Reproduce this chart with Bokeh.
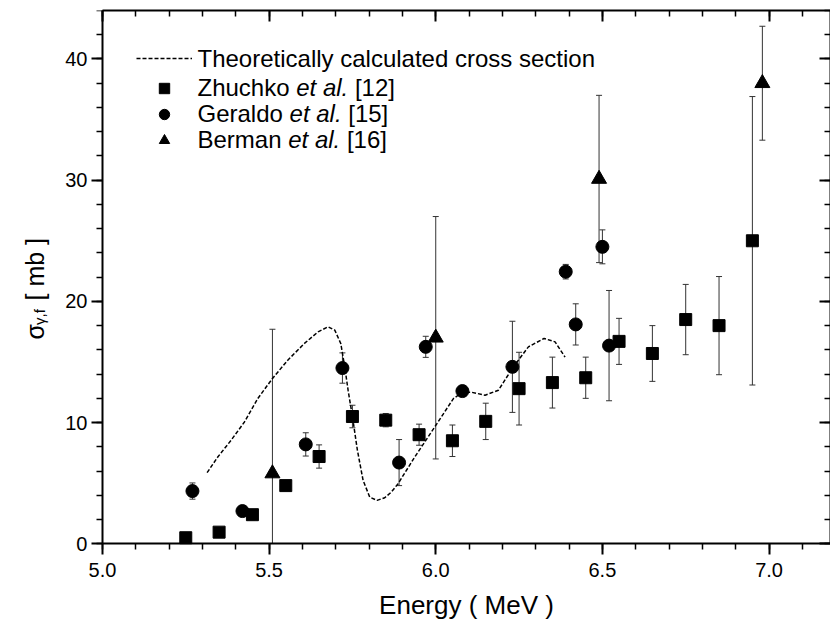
import numpy as np
from bokeh.plotting import figure
from bokeh.models import (Range1d, LinearAxis, SingleIntervalTicker, PrintfTickFormatter,
                          Label, Legend, LegendItem)
from bokeh.embed import file_html
from bokeh.resources import INLINE

# ---------------- data ----------------
# Theoretically calculated cross section (dashed curve)
th_e = [5.314, 5.346, 5.386, 5.426, 5.466, 5.509, 5.556, 5.606, 5.647, 5.677, 5.697,
        5.715, 5.727, 5.737, 5.750, 5.765, 5.782, 5.802, 5.824, 5.847, 5.867, 5.887,
        5.937, 5.997, 6.053, 6.080, 6.108, 6.148, 6.188, 6.233, 6.278, 6.325, 6.358, 6.388]
th_s = [5.87, 7.16, 8.54, 10.05, 11.98, 13.6, 15.15, 16.53, 17.49, 17.9, 17.63,
        16.53, 14.6, 12.67, 10.5, 7.71, 5.23, 3.85, 3.58, 3.8, 4.27, 4.96,
        7.16, 9.64, 11.98, 12.5, 12.5, 12.26, 12.67, 14.6, 16.25, 16.94, 16.66, 15.4]

# Zhuchko et al. [12]
zh_e = [5.25, 5.35, 5.45, 5.55, 5.65, 5.75, 5.85, 5.95, 6.05, 6.15, 6.25, 6.35,
        6.45, 6.55, 6.65, 6.75, 6.85, 6.95]
zh_s = [0.5, 0.96, 2.4, 4.8, 7.2, 10.5, 10.2, 9.0, 8.5, 10.1, 12.8, 13.3,
        13.7, 16.7, 15.7, 18.5, 18.0, 25.0]
zh_d = [0, 0, 0, 0, 0.96, 0.93, 0.55, 0.87, 1.3, 1.5, 3.0, 2.1,
        1.7, 1.9, 2.3, 2.9, 4.05, 11.9]

# Geraldo et al. [15]
ge_e = [5.27, 5.42, 5.61, 5.72, 5.89, 5.97, 6.08, 6.23, 6.39, 6.42, 6.50, 6.52]
ge_s = [4.35, 2.7, 8.2, 14.5, 6.7, 16.25, 12.6, 14.6, 22.45, 18.1, 24.5, 16.35]
ge_d = [0.67, 0, 0.96, 1.25, 1.9, 0.87, 0, 3.76, 0.6, 1.7, 1.4, 4.55]

# Berman et al. [16]
be_e = [5.51, 6.00, 6.49, 6.98]
be_s = [5.8, 17.0, 30.1, 38.0]
be_d = [11.9, 10.0, 6.9, 4.7]

X_START, X_END = 5.0, 7.1844
Y_START, Y_END = 0, 44
x_ticks_interval = 0.5
y_ticks_interval = 10

FONT = "Liberation Sans"

# The frame spans the whole page (minus the top axis and the right axis) so that the
# axis titles and tick labels, which are drawn inside it, are not clipped.  The left
# and bottom axes are pinned at x = 5.0 and y = 0 and bounded to the data area.
X_VIEW_START = 4.6941
Y_VIEW_START = -6.66

p = figure(width=830, height=624, x_range=Range1d(X_VIEW_START, X_END),
           y_range=Range1d(Y_VIEW_START, Y_END),
           output_backend="svg", toolbar_location=None,
           min_border_left=0, min_border_right=0, min_border_top=10, min_border_bottom=0)
p.grid.visible = False
p.outline_line_color = None
p.background_fill_color = "white"


def style_axis(ax, inside, labels=True):
    ax.axis_line_width = 2
    ax.axis_line_color = "black"
    ax.major_tick_line_width = 2
    ax.minor_tick_line_width = 1.5
    ax.major_tick_line_color = "black"
    ax.minor_tick_line_color = "black"
    if inside:
        ax.major_tick_in, ax.major_tick_out = 11, 0
        ax.minor_tick_in, ax.minor_tick_out = 6, 0
    else:
        ax.major_tick_in, ax.major_tick_out = 0, 11
        ax.minor_tick_in, ax.minor_tick_out = 0, 6
    if labels:
        ax.major_label_text_font = FONT
        ax.major_label_text_font_size = "20px"
        ax.major_label_text_color = "black"
    else:
        ax.major_label_text_font_size = "0px"
        ax.major_label_text_color = None
        ax.major_label_text_alpha = 0
        ax.major_label_standoff = 0
        ax.axis_label_standoff = 0


p.xaxis.ticker = SingleIntervalTicker(interval=x_ticks_interval, num_minor_ticks=5)
p.xaxis.formatter = PrintfTickFormatter(format="%.1f")
p.xaxis.bounds = (X_START, X_END)
p.xaxis.fixed_location = Y_START
p.yaxis.ticker = SingleIntervalTicker(interval=y_ticks_interval, num_minor_ticks=5)
p.yaxis.bounds = (Y_START, Y_END)
p.yaxis.fixed_location = X_START
style_axis(p.xaxis[0], False)
style_axis(p.yaxis[0], False)
p.xaxis.major_label_standoff = 8
p.yaxis.major_label_standoff = 4
p.xaxis.axis_label = "Energy ( MeV )"
p.xaxis.axis_label_text_font = FONT
p.xaxis.axis_label_text_font_size = "26px"
p.xaxis.axis_label_text_font_style = "normal"
p.xaxis.axis_label_text_color = "black"
p.xaxis.axis_label_standoff = 10

top = LinearAxis(ticker=SingleIntervalTicker(interval=x_ticks_interval, num_minor_ticks=5),
                 bounds=(X_START, X_END))
style_axis(top, True, labels=False)
p.add_layout(top, "above")
right = LinearAxis(ticker=SingleIntervalTicker(interval=y_ticks_interval, num_minor_ticks=5),
                   bounds=(Y_START, Y_END))
style_axis(right, True, labels=False)
p.add_layout(right, "right")

# ---------------- error bars ----------------
def errorbars(e, s, d):
    e = np.asarray(e, float); s = np.asarray(s, float); d = np.asarray(d, float)
    m = d > 0
    lo = np.maximum(s[m] - d[m], Y_START)
    p.segment(x0=e[m], y0=lo, x1=e[m], y1=s[m] + d[m],
              line_color="#333333", line_width=1)
    lo_cap = (s[m] - d[m]) >= Y_START
    p.scatter(x=np.concatenate([e[m][lo_cap], e[m]]),
              y=np.concatenate([(s[m] - d[m])[lo_cap], s[m] + d[m]]),
              marker="dash", size=6, line_color="#333333", line_width=1)

errorbars(zh_e, zh_s, zh_d)
errorbars(ge_e, ge_s, ge_d)
errorbars(be_e, be_s, be_d)

# ---------------- series ----------------
r_line = p.line(th_e, th_s, line_dash="4 2", line_color="black", line_width=1.5)
r_sq = p.scatter(zh_e, zh_s, marker="square", size=12, fill_color="black", line_color="black")
r_ci = p.scatter(ge_e, ge_s, marker="circle", size=13, fill_color="black", line_color="black")
r_tr = p.scatter(be_e, be_s, marker="triangle", size=15, fill_color="black", line_color="black")

# ---------------- legend ----------------
FRAME_LEFT_PX = 102   # screen offset of x = 5.0 from the frame's left edge
FRAME_BOTTOM_PX = 81  # screen offset of y = 0 above the frame's bottom edge


def make_legend(items, loc):
    lg = Legend(items=items, location=loc, glyph_width=56, glyph_height=26,
                label_height=26, label_width=0, padding=0, margin=0, spacing=0,
                label_standoff=0, border_line_color=None, background_fill_alpha=0,
                label_text_color=None, label_text_alpha=0, label_text_font_size="10px")
    p.add_layout(lg)

make_legend([LegendItem(label="Theoretically calculated cross section", renderers=[r_line])],
            (FRAME_LEFT_PX + 34, FRAME_BOTTOM_PX + 472))
make_legend([LegendItem(label="Zhuchko et al. [12]", renderers=[r_sq]),
             LegendItem(label="Geraldo et al. [15]", renderers=[r_ci]),
             LegendItem(label="Berman et al. [16]", renderers=[r_tr])],
            (FRAME_LEFT_PX + 34, FRAME_BOTTOM_PX + 390))

# Arial / Liberation Sans advance widths (per 1000 em)
W = {' ': 278, '.': 278, '[': 278, ']': 278, '1': 556, '2': 556, '5': 556, '6': 556,
     'Z': 611, 'G': 778, 'B': 667, 'a': 556, 'b': 556, 'c': 500, 'd': 556, 'e': 556,
     'h': 556, 'k': 500, 'l': 222, 'm': 833, 'n': 556, 'o': 556, 'r': 333, 't': 278,
     'u': 556}

def tw(s, size):
    return sum(W.get(ch, 556) for ch in s) * size / 1000.0

LEG_SIZE = 24
LEG_X = FRAME_LEFT_PX + 95
leg_rows = [
    ("Theoretically calculated cross section", None, None, 485),
    ("Zhuchko", "et al.", "[12]", 456),
    ("Geraldo", "et al.", "[15]", 430),
    ("Berman", "et al.", "[16]", 404),
]
for a, b, c, yy in leg_rows:
    pieces = [(a, "normal", 0.0)]
    if b is not None:
        pieces.append((b, "italic", tw(a + " ", LEG_SIZE)))
        pieces.append((c, "normal", tw(a + " " + b + " ", LEG_SIZE)))
    for txt, style, dx in pieces:
        p.add_layout(Label(x=LEG_X + dx, y=FRAME_BOTTOM_PX + yy, x_units="screen", y_units="screen",
                           text=txt, text_font=FONT, text_font_size=f"{LEG_SIZE}px",
                           text_font_style=style, text_color="black",
                           text_baseline="middle", text_align="left"))

# ---------------- y axis title (sigma_{gamma,f} [ mb ]) ----------------
YL_X = 34
YL_Y = FRAME_BOTTOM_PX + 204
p.add_layout(Label(x=YL_X, y=YL_Y, x_units="screen", y_units="screen", text="σ",
                   angle=np.pi / 2, text_font=FONT, text_font_size="25px",
                   text_color="black", text_baseline="alphabetic", text_align="left"))
p.add_layout(Label(x=YL_X + 5, y=YL_Y + 14.5, x_units="screen", y_units="screen", text="γ,f",
                   angle=np.pi / 2, text_font=FONT, text_font_size="15px",
                   text_color="black", text_baseline="alphabetic", text_align="left"))
p.add_layout(Label(x=YL_X, y=YL_Y + 39, x_units="screen", y_units="screen", text="[ mb ]",
                   angle=np.pi / 2, text_font=FONT, text_font_size="25px",
                   text_color="black", text_baseline="alphabetic", text_align="left"))

open("out.html", "w").write(file_html(p, INLINE))
